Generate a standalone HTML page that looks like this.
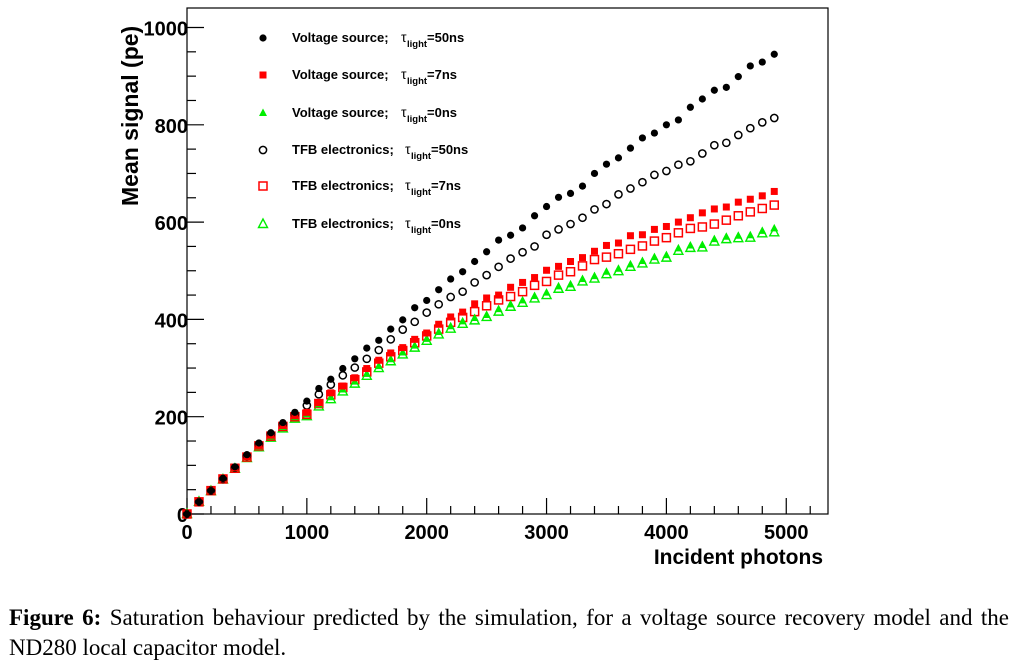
<!DOCTYPE html>
<html><head><meta charset="utf-8"><style>
body{margin:0;background:#fff;width:1017px;height:662px;overflow:hidden}
svg{position:absolute;left:0;top:0}
.cap{position:absolute;left:9px;top:603px;width:1000px;font-family:"Liberation Serif",serif;font-size:23px;line-height:30px;color:#000}
.l1{text-align:justify;text-align-last:justify;white-space:nowrap}
</style></head><body>
<svg id="chart" width="1017" height="600" font-family="Liberation Sans, sans-serif"></svg>
<div class="cap"><div class="l1"><b>Figure 6:</b> Saturation behaviour predicted by the simulation, for a voltage source recovery model and the</div><div>ND280 local capacitor model.</div></div>
<script>
const photons=[0,100,200,300,400,500,600,700,800,900,1000,1100,1200,1300,1400,1500,1600,1700,1800,1900,2000,2100,2200,2300,2400,2500,2600,2700,2800,2900,3000,3100,3200,3300,3400,3500,3600,3700,3800,3900,4000,4100,4200,4300,4400,4500,4600,4700,4800,4900];
const vs50=[0,25,48,73,97,122,146,167,188,209,232,258,277,299,319,341,357,380,399,424,439,461,483,498,519,539,563,573,588,613,632,651,659,674,700,719,732,752,773,783,800,810,836,853,871,877,899,921,929,945];
const vs7=[0,25,48,72,95,118,141,162,182,202,209,229,249,263,280,299,316,331,342,359,372,390,405,415,432,444,450,466,476,486,501,509,519,527,540,552,557,572,574,585,591,600,609,619,627,631,641,647,654,663];
const vs0=[0,25,48,72,94,117,139,159,179,199,205,225,240,256,272,288,304,318,332,346,360,374,386,396,403,409,421,431,439,448,455,468,472,483,489,498,504,513,520,528,532,546,552,553,565,570,572,573,582,587];
const tfb50=[0,25,48,72,95,119,143,164,184,205,223,246,266,285,301,319,337,359,379,395,414,431,446,457,476,491,508,525,538,550,574,585,596,609,626,637,657,669,682,697,705,718,725,741,758,763,779,793,805,814];
const tfb7=[0,25,48,72,94,117,140,160,180,200,205,227,245,260,276,292,310,323,336,352,366,380,394,404,416,428,440,447,457,470,478,491,498,510,523,528,535,544,551,561,568,578,587,590,596,604,613,621,628,635];
const tfb0=[0,25,47,71,93,115,137,157,176,196,201,221,236,252,268,284,300,314,328,342,356,369,381,391,398,405,416,426,434,443,450,463,467,478,484,493,499,508,515,523,527,541,547,548,560,565,567,568,577,579];
const xTicks=[0,1000,2000,3000,4000,5000];
const yTicks=[0,200,400,600,800,1000];
const legendLabels=["Voltage source;","Voltage source;","Voltage source;","TFB electronics;","TFB electronics;","TFB electronics;"];
const legendTau=["=50ns","=7ns","=0ns","=50ns","=7ns","=0ns"];

const NS="http://www.w3.org/2000/svg";
const svg=document.getElementById('chart');
const L=187,R=828,T=8,B=514;
const X=v=>L+v*0.11985;
const Y=v=>B-v*0.4865;
function mk(tag,attrs,parent){const e=document.createElementNS(NS,tag);for(const k in attrs)e.setAttribute(k,attrs[k]);(parent||svg).appendChild(e);return e;}
const frame=mk('rect',{x:L,y:T,width:R-L,height:B-T,fill:'none',stroke:'#000','stroke-width':1.2});


for(let v=0;v<=5300;v+=200){const l=mk('line',{x1:X(v),x2:X(v),y1:B,y2:B-(v%1000===0?16:8),stroke:'#000','stroke-width':1.2});

}
for(let v=0;v<=1000;v+=50){const l=mk('line',{x1:L,x2:L+(v%200===0?17:9),y1:Y(v),y2:Y(v),stroke:'#000','stroke-width':1.2});

}
xTicks.forEach(v=>{const t=mk('text',{x:X(v),y:B+25,'text-anchor':'middle','font-size':20,'font-weight':'bold'});t.textContent=v;

});
yTicks.forEach(v=>{const t=mk('text',{x:L+1,y:Y(v)+8,'text-anchor':'end','font-size':20,'font-weight':'bold'});t.textContent=v;

});
const xt=mk('text',{x:823,y:564,'text-anchor':'end','font-size':21,'font-weight':'bold'});xt.textContent='Incident photons';


const yt=mk('text',{x:0,y:0,'text-anchor':'start','font-size':23,'font-weight':'bold',transform:'translate(138,206) rotate(-90)'});yt.textContent='Mean signal (pe)';



function marker(type,cx,cy,g){
  if(type===0)return mk('circle',{cx,cy,r:3.6,fill:'#000'},g);
  if(type===1)return mk('rect',{x:cx-3.5,y:cy-3.5,width:7,height:7,fill:'#f00'},g);
  if(type===2)return mk('polygon',{points:`${cx},${cy-4.5} ${cx-4},${cy+3} ${cx+4},${cy+3}`,fill:'#0e0'},g);
  if(type===3)return mk('circle',{cx,cy,r:3.6,fill:'none',stroke:'#000','stroke-width':1.5},g);
  if(type===4)return mk('rect',{x:cx-4,y:cy-4,width:8,height:8,fill:'none',stroke:'#f00','stroke-width':1.5},g);
  return mk('polygon',{points:`${cx},${cy-5} ${cx-4.5},${cy+3.5} ${cx+4.5},${cy+3.5}`,fill:'none',stroke:'#0e0','stroke-width':1.4},g);
}
const series=[vs50,vs7,vs0,tfb50,tfb7,tfb0];
const names=['voltage-50ns','voltage-7ns','voltage-0ns','tfb-50ns','tfb-7ns','tfb-0ns'];
[5,4,3,2,1,0].forEach(s=>{
  const g=mk('g',{});
  
  
  series[s].forEach((v,i)=>{const m=marker(s,X(photons[i]),Y(v),g);
  
  });
});
const ly=[38,75,113,150,186,224];
legendLabels.forEach((lab,i)=>{
  const g=mk('g',{});
  
  
  marker(i,263,ly[i],g);
  const t=mk('text',{x:292,y:ly[i]+4,'font-size':13,'font-weight':'bold'},g);
  const xoff=i<3?401:405;
  t.textContent=lab;
  const t2=mk('text',{x:xoff,y:ly[i]+4,'font-size':14},g);t2.textContent='τ';
  const t3=mk('text',{x:xoff+6,y:ly[i]+9,'font-size':9.5,'font-weight':'bold'},g);t3.textContent='light';
  const t4=mk('text',{x:xoff+26,y:ly[i]+4,'font-size':13,'font-weight':'bold'},g);t4.textContent=legendTau[i];
});
</script>
</body></html>
